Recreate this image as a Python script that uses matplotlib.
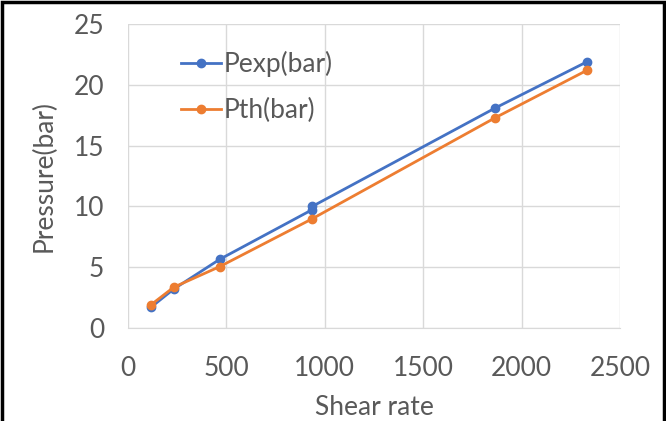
import matplotlib.pyplot as plt
from matplotlib.patches import Rectangle

# data
shear_exp = [117, 233, 467, 933, 937, 1867, 2333]
p_exp = [1.7, 3.2, 5.65, 9.7, 10.0, 18.1, 21.9]
shear_th = [117, 233, 467, 933, 1867, 2333]
p_th = [1.9, 3.35, 5.05, 8.95, 17.3, 21.2]

x_ticks = [0, 500, 1000, 1500, 2000, 2500]
y_ticks = [0, 5, 10, 15, 20, 25]

plt.rcParams['font.family'] = ['Lato', 'DejaVu Sans']
grey = '#595959'

fig = plt.figure(figsize=(6.66, 4.21), dpi=100)
ax = fig.add_axes([0.192, 0.221, 0.739, 0.722])

ax.plot(shear_exp, p_exp, '-o', color='#4472C4', lw=2, ms=6, label='Pexp(bar)')
ax.plot(shear_th, p_th, '-o', color='#ED7D31', lw=2, ms=6, label='Pth(bar)')

ax.set_xlim(0, 2500)
ax.set_ylim(0, 25)
ax.set_xticks(x_ticks)
ax.set_yticks(y_ticks)
ax.grid(True, color='#d9d9d9', lw=1)
ax.set_axisbelow(True)
for s in ['top', 'right', 'left']:
    ax.spines[s].set_visible(False)
ax.spines['bottom'].set_color('#d9d9d9')
ax.tick_params(length=0, labelsize=19, colors=grey)
ax.tick_params(axis='x', pad=20)
ax.tick_params(axis='y', pad=17)
ax.set_xlabel('Shear rate', fontsize=19, color=grey, labelpad=10)
ax.set_ylabel('Pressure(bar)', fontsize=19, color=grey, labelpad=12)

ax.legend(loc='upper left', bbox_to_anchor=(0.06, 0.99), frameon=False,
          fontsize=19, labelcolor=grey, handlelength=1.5, handletextpad=0.1,
          labelspacing=0.8)

# outer chart border
fig.add_artist(Rectangle((0.003, -0.05), 0.994, 1.046, transform=fig.transFigure,
                         fill=False, edgecolor='black', lw=2.5))

fig.savefig('out.png', dpi=100)
